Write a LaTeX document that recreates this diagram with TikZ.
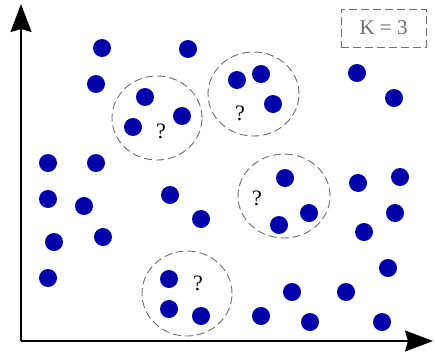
\documentclass[tikz,border=0pt]{standalone}
\usepackage{fontspec}
\setmainfont{Liberation Serif}
\usetikzlibrary{arrows.meta,shapes.geometric}
\definecolor{dotblue}{RGB}{0,0,170}
\definecolor{dashgray}{RGB}{110,110,110}
\tikzset{
  pt/.style={fill=dotblue, draw=none, circle, minimum size=18pt, inner sep=0pt},
  grp/.style={draw=dashgray, dash pattern=on 8pt off 4pt, line width=0.9pt, ellipse, inner sep=0pt},
  axis/.style={line width=1.8pt, -{Stealth[length=28pt,width=21pt,inset=3pt]}},
  qm/.style={font=\fontsize{22}{24}\selectfont, inner sep=0pt}
}
\begin{document}
\begin{tikzpicture}[x=1pt,y=-1pt]
\useasboundingbox (0,0) rectangle (435,353);
% axes
\coordinate (o) at (21,341);
\coordinate (ytip) at (21,4);
\coordinate (xtip) at (433,341);
\draw[axis] (o) -- (ytip);
\draw[axis] (o) -- (xtip);
% K box
\node[draw=dashgray, dash pattern=on 8pt off 4pt, line width=0.9pt, minimum width=85pt, minimum height=38pt, inner sep=0pt, text=dashgray, font=\fontsize{21}{23}\selectfont] (k) at (383.5,28) {K = 3};
% group circles
\node[grp, minimum width=90pt, minimum height=84pt] (g1) at (157,118) {};
\node[grp, minimum width=91pt, minimum height=84pt] (g2) at (253.5,94) {};
\node[grp, minimum width=92pt, minimum height=84pt] (g3) at (284,196) {};
\node[grp, minimum width=90pt, minimum height=85pt] (g4) at (187,293.5) {};
% question marks
\node[qm] (q1) at (161,131) {?};
\node[qm] (q2) at (240,113) {?};
\node[qm] (q3) at (257,198) {?};
\node[qm] (q4) at (198,283) {?};
% dots
\foreach \x/\y [count=\i] in {
102/48, 188/49, 96/84, 145/97, 182/116, 133/127,
237/80, 261/74, 273/104, 357/73, 394/98,
48/163, 96/163, 48/199, 84/206, 170/195, 201/219, 54/242, 103/237,
285/178, 309/213, 279/225,
358/183, 400/177, 395/213, 364/232, 388/268,
48/278, 169/279, 169/309, 201/316,
292/292, 346/292, 261/316, 310/322, 382/322}
  \node[pt] (p\i) at (\x,\y) {};
\end{tikzpicture}
\end{document}
